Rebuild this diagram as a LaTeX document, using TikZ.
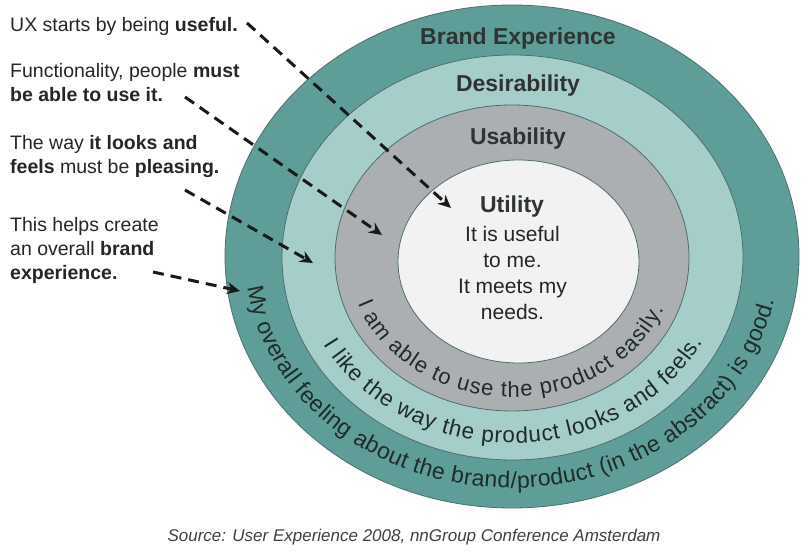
\documentclass[tikz,border=0pt]{standalone}
\usepackage{fontspec}
\setmainfont{Liberation Sans}
\usetikzlibrary{arrows.meta,decorations.text}
\definecolor{brandc}{HTML}{5F9E98}
\definecolor{desirec}{HTML}{A5CDCA}
\definecolor{usabc}{HTML}{ABAFB1}
\definecolor{utilc}{HTML}{F2F2F2}
\definecolor{edgec}{HTML}{4F6E6B}
\definecolor{headc}{HTML}{2E3433}
\definecolor{bodyc}{HTML}{262626}
\definecolor{curvec}{HTML}{1F2B2A}
\definecolor{srcc}{HTML}{404040}
\newcommand{\curvefont}[1]{\color{curvec}\fontsize{#1}{#1}\selectfont}
\tikzset{
  ring/.style={draw=edgec, line width=0.8pt},
  heading/.style={anchor=base, inner sep=0pt, text=headc, font=\fontsize{23}{26}\selectfont\bfseries},
  body/.style={anchor=base, inner sep=0pt, text=bodyc, font=\fontsize{21}{26}\selectfont},
  side/.style={anchor=north west, inner sep=0pt, align=left, text=bodyc, font=\fontsize{19.5}{24}\selectfont},
  pointer/.style={line width=3pt, dash pattern=on 11pt off 7pt, -{Stealth[length=13pt,width=12pt]}, draw=black!90},
  curved/.style 2 args={decorate, decoration={text along path, text align=fit to path, text={|\curvefont{#1}|#2}}}
}
\begin{document}
\begin{tikzpicture}[x=1pt,y=1pt]
\useasboundingbox (0,0) rectangle (808,553);
\fill[white] (0,0) rectangle (808,553);
% rings
\draw[ring, fill=brandc] (512,296.5) ellipse [x radius=287pt, y radius=251.5pt];
\draw[ring, fill=desirec] (512.5,295.5) ellipse [x radius=230.5pt, y radius=202.5pt];
\draw[ring, fill=usabc] (512,295) ellipse [x radius=177pt, y radius=153pt];
\draw[ring, fill=utilc] (518.5,291.5) ellipse [x radius=120.5pt, y radius=101.5pt];
% headings
\node[heading] (brand) at (518,508) {Brand Experience};
\node[heading] (desir) at (518,461) {Desirability};
\node[heading] (usab) at (518,408) {Usability};
\node[heading] (util) at (512,340) {Utility};
\node[body] (u1) at (512.5,311) {It is useful};
\node[body] (u2) at (512.5,285) {to me.};
\node[body] (u3) at (512.5,259) {It meets my};
\node[body] (u4) at (512.5,233) {needs.};
% curved texts
\path[curved={22}{I am able to use the product easily.}]
  ([shift={(512,295)}]199:163pt and 139pt) arc[start angle=199, end angle=338.5, x radius=163pt, y radius=139pt];
\path[curved={22.5}{I like the way the product looks and feels.}]
  ([shift={(512.5,295.5)}]208:213.5pt and 185.5pt) arc[start angle=208, end angle=333, x radius=213.5pt, y radius=185.5pt];
\path[curved={23}{My overall feeling about the brand/product (in the abstract) is good.}]
  ([shift={(512,296.5)}]187.6:267pt and 231.5pt) arc[start angle=187.6, end angle=349, x radius=267pt, y radius=231.5pt];
% side texts
\node[side] (t1) at (10,536) {UX starts by being \textbf{useful.}};
\node[side] (t2) at (10,490) {Functionality, people \textbf{must}\\\textbf{be able to use it.}};
\node[side] (t3) at (10,418) {The way \textbf{it looks and}\\\textbf{feels} must be \textbf{pleasing.}};
\node[side] (t4) at (10,336) {This helps create\\an overall \textbf{brand}\\\textbf{experience.}};
% arrows
\coordinate (a1s) at (247,530);
\coordinate (a1e) at (451,345);
\coordinate (a2s) at (185,456);
\coordinate (a2e) at (382,318);
\coordinate (a3s) at (185,363);
\coordinate (a3e) at (313,290);
\coordinate (a4s) at (153,281);
\coordinate (a4e) at (240,262);
\draw[pointer] (a1s) -- (a1e);
\draw[pointer] (a2s) -- (a2e);
\draw[pointer] (a3s) -- (a3e);
\draw[pointer] (a4s) -- (a4e);
% source
\node[anchor=base, inner sep=0pt, text=srcc, font=\fontsize{17}{18}\selectfont\itshape] (src) at (414,11) {Source: User Experience 2008, nnGroup Conference Amsterdam};
\end{tikzpicture}
\end{document}
